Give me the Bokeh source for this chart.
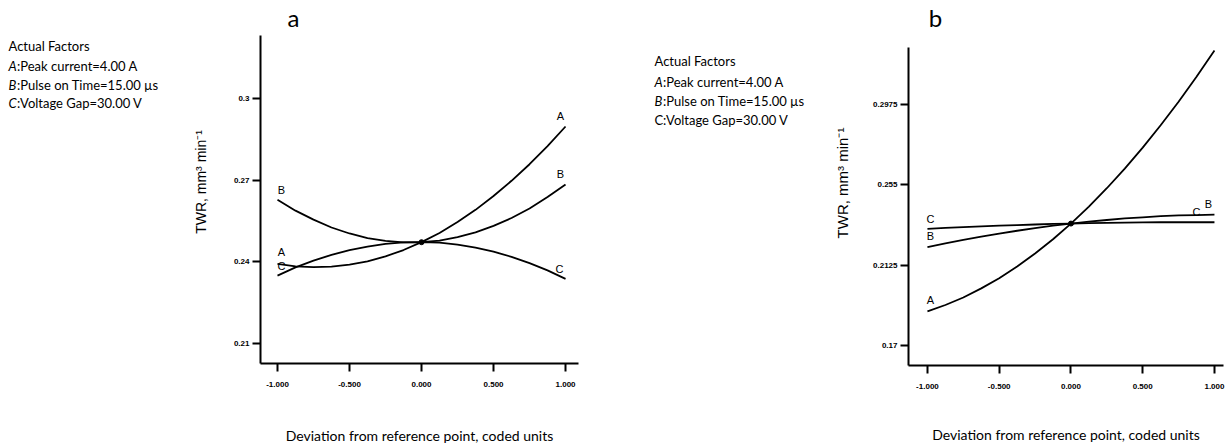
from bokeh.plotting import figure
from bokeh.layouts import row, column
from bokeh.models import Range1d, FixedTicker, Label
from bokeh.embed import file_html
from bokeh.resources import INLINE
from bokeh.core.properties import value

# ---------------- data ----------------
x_dev = [-1.0, -0.875, -0.75, -0.625, -0.5, -0.375, -0.25, -0.125, 0.0,
         0.125, 0.25, 0.375, 0.5, 0.625, 0.75, 0.875, 1.0]
x_ticks = [-1.0, -0.5, 0.0, 0.5, 1.0]
x_tick_labels = ["-1.000", "-0.500", "0.000", "0.500", "1.000"]

# panel a
a_A = [0.2392, 0.2383, 0.2380, 0.2382, 0.2389, 0.2401, 0.2420, 0.2443, 0.2472,
       0.2506, 0.2546, 0.2591, 0.2642, 0.2698, 0.2759, 0.2826, 0.2898]
a_B = [0.2628, 0.2588, 0.2555, 0.2526, 0.2504, 0.2487, 0.2477, 0.2471, 0.2472,
       0.2478, 0.2491, 0.2508, 0.2532, 0.2561, 0.2596, 0.2638, 0.2684]
a_C = [0.2349, 0.2379, 0.2404, 0.2425, 0.2443, 0.2456, 0.2466, 0.2471, 0.2472,
       0.2470, 0.2463, 0.2452, 0.2437, 0.2418, 0.2395, 0.2368, 0.2337]
a_y_ticks = [0.21, 0.24, 0.27, 0.3]
a_y_tick_labels = ["0.21", "0.24", "0.27", "0.3"]

# panel b
b_A = [0.1880, 0.1914, 0.1954, 0.2002, 0.2056, 0.2118, 0.2187, 0.2262, 0.2345,
       0.2435, 0.2532, 0.2636, 0.2747, 0.2865, 0.2990, 0.3122, 0.3261]
b_B = [0.2220, 0.2240, 0.2259, 0.2276, 0.2292, 0.2307, 0.2321, 0.2334, 0.2345,
       0.2355, 0.2364, 0.2372, 0.2378, 0.2384, 0.2388, 0.2390, 0.2392]
b_C = [0.2317, 0.2322, 0.2326, 0.2330, 0.2334, 0.2337, 0.2340, 0.2343, 0.2345,
       0.2347, 0.2349, 0.2350, 0.2351, 0.2352, 0.2352, 0.2352, 0.2352]
b_y_ticks = [0.17, 0.2125, 0.255, 0.2975]
b_y_tick_labels = ["0.17", "0.2125", "0.255", "0.2975"]

factor_head = "Actual Factors"
factor_lines = [("A", ":Peak current=4.00 A"),
                ("B", ":Pulse on Time=15.00 µs"),
                ("C", ":Voltage Gap=30.00 V")]
panel_titles = ["a", "b"]
x_title = "Deviation from reference point, coded units"
y_title = "TWR, mm³ min⁻¹"

# ---------------- layout (image pixels) ----------------
H = 446
TICK_FONT = "Liberation Sans"
TXT_FONT = "Lato"
MID = len(x_dev) // 2


def text_fig(width):
    # data units are page pixels: x = page_x - canvas_left, y = H - page_y
    p = figure(width=width, height=H, x_range=Range1d(0, width),
               y_range=Range1d(0, H), output_backend="svg",
               toolbar_location=None, x_axis_location=None, y_axis_location=None,
               min_border_left=0, min_border_right=0, min_border_top=0,
               min_border_bottom=0)
    p.outline_line_color = None
    p.xgrid.visible = False
    p.ygrid.visible = False
    return p


class Geo:
    """frame geometry in page pixels + the data ranges that fill it"""
    def __init__(self, fl, fr, fb, xr, yr):
        self.fl, self.fr, self.fb, self.xr, self.yr = fl, fr, fb, xr, yr

    def to_data(self, px, py):
        x = self.xr[0] + (px - self.fl) / (self.fr - self.fl) * (self.xr[1] - self.xr[0])
        y = self.yr[0] + (self.fb - py) / self.fb * (self.yr[1] - self.yr[0])
        return x, y


def panel(width, left_border, right_border, g, axis_top, yticks, ylabels,
          ylab_size, ylab_standoff, xlab_standoff):
    p = figure(width=width, height=H, x_range=Range1d(*g.xr), y_range=Range1d(*g.yr),
               output_backend="svg", toolbar_location=None,
               min_border_left=left_border, min_border_right=right_border,
               min_border_top=0, min_border_bottom=H - g.fb)
    p.outline_line_color = None
    p.xgrid.visible = False
    p.ygrid.visible = False
    for ax in (p.xaxis[0], p.yaxis[0]):
        ax.axis_line_width = 2
        ax.axis_line_color = "black"
        ax.major_tick_line_width = 2
        ax.major_tick_line_color = "black"
        ax.major_tick_out = 8
        ax.major_tick_in = 0
        ax.minor_tick_line_color = None
        ax.major_label_text_font = TICK_FONT
        ax.major_label_text_font_style = "bold"
        ax.major_label_text_font_size = "8px"
        ax.major_label_text_color = "black"
        ax.axis_label_text_font_style = "normal"
        ax.axis_label_text_color = "black"
    p.xaxis.ticker = FixedTicker(ticks=x_ticks)
    p.xaxis.major_label_overrides = dict(zip(x_ticks, x_tick_labels))
    p.xaxis.major_label_standoff = 10
    p.xaxis.axis_label = x_title
    p.xaxis.axis_label_text_font = TXT_FONT
    p.xaxis.axis_label_text_font_size = "14px"
    p.xaxis.axis_label_standoff = xlab_standoff
    p.yaxis.ticker = FixedTicker(ticks=yticks)
    p.yaxis.major_label_overrides = dict(zip(yticks, ylabels))
    p.yaxis.major_label_standoff = 3
    p.yaxis.bounds = (g.yr[0], axis_top)
    p.yaxis.axis_label = y_title
    p.yaxis.axis_label_text_font = TICK_FONT
    p.yaxis.axis_label_text_font_size = ylab_size
    p.yaxis.axis_label_standoff = ylab_standoff
    return p


def curves(p, A, B, C):
    for s in (A, B, C):
        p.line(x_dev, s, line_color="black", line_width=1.8)
    p.scatter([x_dev[MID]], [A[MID]], size=5, color="black")


def title_label(p, g, text, px, py):
    x, y = g.to_data(px, py)
    p.add_layout(Label(x=x, y=y, text=text, text_font=TXT_FONT,
                       text_font_size="24px", text_align="center",
                       text_baseline="alphabetic", text_color="black"))


def factor_block(p, left_page, x0, baselines, italic):
    def lab(px, py, text, style="normal"):
        p.add_layout(Label(x=px - left_page, y=H - py, text=text,
                           text_font=TXT_FONT, text_font_size="13px",
                           text_font_style=style, text_baseline="alphabetic",
                           text_color="black"))
    lab(x0, baselines[0], factor_head)
    for (letter, rest), by, it in zip(factor_lines, baselines[1:], italic):
        lab(x0, by, letter, "italic" if it else "normal")
        lab(x0 + 8.5, by, rest)


# ---------- text block a ----------  page x 0..180
ta = text_fig(180)
factor_block(ta, 0, 8, [45.5, 65, 84, 102.5], [True, True, True])

# ---------- panel a ----------  page x 180..632, frame x 260..578, y 0..363
ga = Geo(260, 578, 363, (-1.118, 1.090), (0.20252, 0.33620))
pa = panel(452, 80, 54, ga, 0.32331, a_y_ticks, a_y_tick_labels, "14px", 22, 37)
curves(pa, a_A, a_B, a_C)
pa.text(x=[x_dev[0], x_dev[0], x_dev[0], x_dev[-1], x_dev[-1], x_dev[-1]],
        y=[a_A[0], a_B[0], a_C[0], a_A[-1], a_B[-1], a_C[-1]],
        text=["A", "B", "C", "A", "B", "C"],
        x_offset=[4, 4, 4, -5, -5, -6], y_offset=[-6, -4, -4, -4, -5, -4],
        text_font=value(TICK_FONT), text_font_size="11px", text_align="center",
        text_baseline="bottom", text_color="black")
title_label(pa, ga, panel_titles[0], 293, 17)

# ---------- text block b ----------  page x 632..820
tb = text_fig(188)
factor_block(tb, 632, 654, [60.7, 81.3, 100.7, 119], [True, True, False])

# ---------- panel b ----------  page x 820..1230, frame x 908..1223, y 0..365
gb = Geo(908, 1223, 365, (-1.132, 1.063), (0.1594, 0.35254))
pb = panel(410, 88, 7, gb, 0.3277, b_y_ticks, b_y_tick_labels, "15px", 19, 34)
curves(pb, b_A, b_B, b_C)
pb.text(x=[x_dev[0], x_dev[0], x_dev[0], x_dev[-1], x_dev[-1]],
        y=[b_A[0], b_B[0], b_C[0], b_B[-1], b_C[-1]],
        text=["A", "B", "C", "B", "C"],
        x_offset=[3, 3, 3, -6, -18], y_offset=[-5, -5, -4, -5, -4],
        text_font=value(TICK_FONT), text_font_size="11px", text_align="center",
        text_baseline="bottom", text_color="black")
title_label(pb, gb, panel_titles[1], 935, 17)

layout = row(column(ta), column(pa), column(tb), column(pb))
open("out.html", "w").write(file_html(layout, INLINE))
